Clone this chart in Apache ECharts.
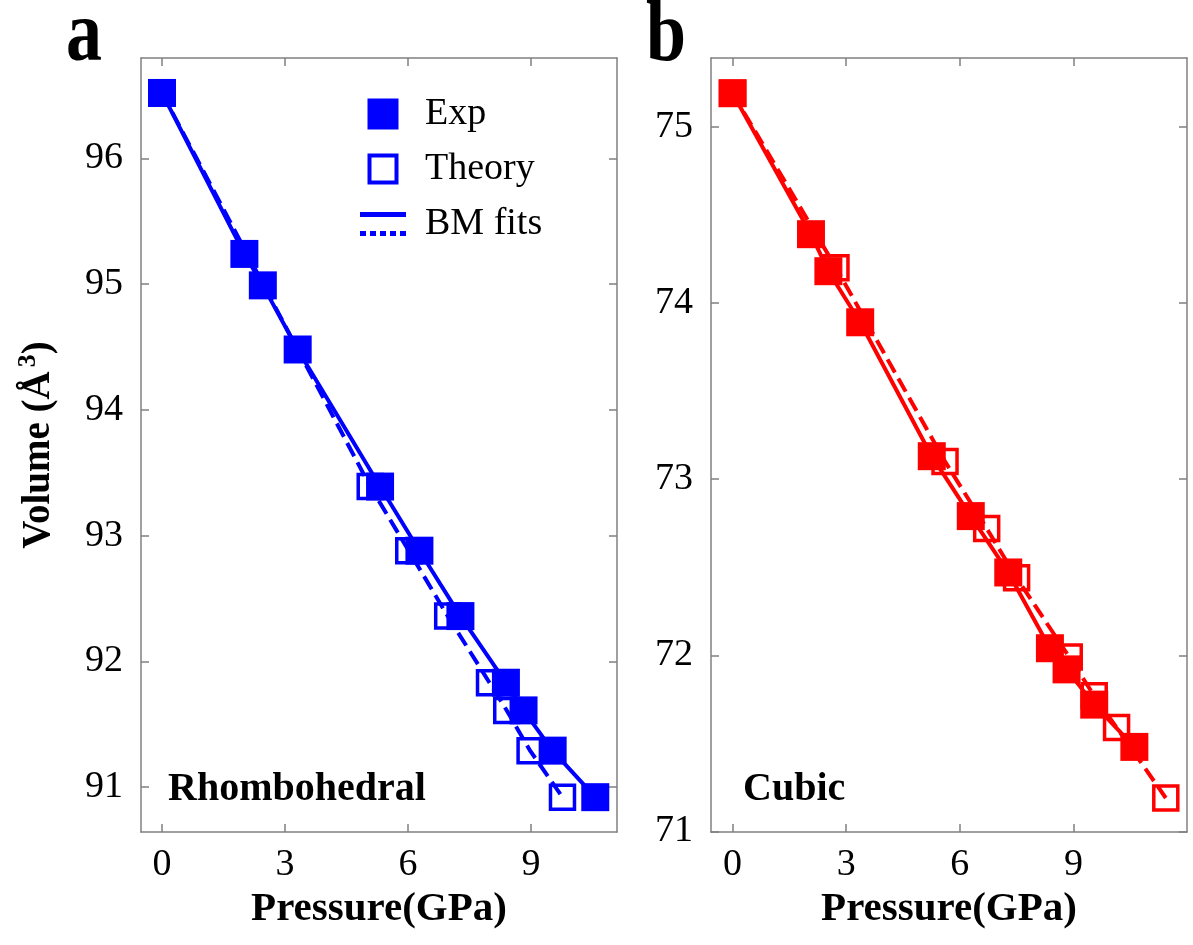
<!DOCTYPE html>
<html>
<head>
<meta charset="utf-8">
<script src="https://cdn.jsdelivr.net/npm/echarts@6/dist/echarts.min.js"></script>
<style>html,body{margin:0;padding:0;background:#fff}#c{width:1193px;height:945px}</style>
</head>
<body>
<div id="c"></div>
<script>
// ---- data (pressure GPa, volume Å^3) ----
const xTicks = [0, 3, 6, 9];
const yTicksA = [91, 92, 93, 94, 95, 96];
const yTicksB = [71, 72, 73, 74, 75];

const expRhombo = [[0, 96.52], [2.01, 95.24], [2.46, 94.99], [3.31, 94.48], [5.32, 93.39], [6.28, 92.88],
  [7.28, 92.36], [8.39, 91.83], [8.82, 91.61], [9.53, 91.29], [10.57, 90.92]];
const theoryRhombo = [[0, 96.52], [5.08, 93.39], [6.02, 92.88], [6.97, 92.36], [7.99, 91.83], [8.41, 91.61],
  [8.98, 91.29], [9.77, 90.92]];

const expCubic = [[0, 75.19], [2.07, 74.39], [2.53, 74.18], [3.37, 73.89], [5.26, 73.13], [6.29, 72.79],
  [7.28, 72.47], [8.38, 72.04], [8.82, 71.92], [9.55, 71.72], [10.61, 71.48]];
const theoryCubic = [[0, 75.19], [2.73, 74.20], [5.61, 73.10], [6.71, 72.72], [7.50, 72.44], [8.89, 71.99],
  [9.55, 71.77], [10.14, 71.59], [11.44, 71.19]];

const BLUE = '#0000ff', RED = '#ff0000';
const SERIF = '"Liberation Serif", "Times New Roman", serif';
const AX = '#808080';

const chart = echarts.init(document.getElementById('c'), null, {renderer: 'canvas'});

function mainX(grid, min, max) {
  return {
    gridIndex: grid, type: 'value', min: min, max: max, position: 'bottom',
    name: 'Pressure(GPa)', nameLocation: 'middle', nameGap: 51,
    nameTextStyle: {fontFamily: SERIF, fontSize: 41, fontWeight: 'bold', color: '#000'},
    axisLine: {show: true, onZero: false, lineStyle: {color: AX, width: 1.5}},
    axisTick: {show: true, inside: true, length: 8, customValues: xTicks, lineStyle: {color: AX, width: 1.5}},
    axisLabel: {show: true, customValues: xTicks, margin: 14, fontFamily: SERIF, fontSize: 38, color: '#000'},
    splitLine: {show: false}
  };
}
function topX(grid, min, max) {
  return {
    gridIndex: grid, type: 'value', min: min, max: max, position: 'top',
    axisLine: {show: true, onZero: false, lineStyle: {color: AX, width: 1.5}},
    axisTick: {show: true, inside: true, length: 8, customValues: xTicks, lineStyle: {color: AX, width: 1.5}},
    axisLabel: {show: false}, splitLine: {show: false}
  };
}
function mainY(grid, min, max, ticks, withName) {
  const o = {
    gridIndex: grid, type: 'value', min: min, max: max, position: 'left',
    axisLine: {show: true, onZero: false, lineStyle: {color: AX, width: 1.5}},
    axisTick: {show: true, inside: true, length: 8, customValues: ticks, lineStyle: {color: AX, width: 1.5}},
    axisLabel: {show: true, customValues: ticks, margin: 18, fontFamily: SERIF, fontSize: 38, color: '#000'},
    splitLine: {show: false}
  };
  if (withName) {
    o.name = 'Volume (Å{sup|3})';
    o.nameLocation = 'middle';
    o.nameGap = 78;
    o.nameTextStyle = {fontFamily: SERIF, fontSize: 39, fontWeight: 'bold', color: '#000',
      rich: {sup: {fontFamily: SERIF, fontSize: 26, fontWeight: 'bold', color: '#000', verticalAlign: 'bottom', padding: [0, 0, 22, 4]}}};
  }
  return o;
}
function rightY(grid, min, max, ticks) {
  return {
    gridIndex: grid, type: 'value', min: min, max: max, position: 'right',
    axisLine: {show: true, onZero: false, lineStyle: {color: AX, width: 1.5}},
    axisTick: {show: true, inside: true, length: 8, customValues: ticks, lineStyle: {color: AX, width: 1.5}},
    axisLabel: {show: false}, splitLine: {show: false}
  };
}

function panelSeries(idx, exp, theory, color, suffix) {
  return [
    {name: 'BM fits' + suffix, type: 'line', xAxisIndex: idx, yAxisIndex: idx, data: theory, showSymbol: false, symbol: 'none',
      lineStyle: {color: color, width: 4, type: [15, 7]}, z: 2, silent: true},
    {name: 'BM fits' + suffix, type: 'line', xAxisIndex: idx, yAxisIndex: idx, data: exp, showSymbol: false, symbol: 'none',
      lineStyle: {color: color, width: 4, type: 'solid'}, itemStyle: {color: color}, z: 2, silent: true},
    {name: 'Theory' + suffix, type: 'scatter', xAxisIndex: idx, yAxisIndex: idx, data: theory, symbol: 'rect', symbolSize: 24,
      itemStyle: {color: 'rgba(0,0,0,0)', borderColor: color, borderWidth: 3.5, opacity: 1}, z: 3},
    {name: 'Exp' + suffix, type: 'scatter', xAxisIndex: idx, yAxisIndex: idx, data: exp, symbol: 'rect', symbolSize: 28,
      itemStyle: {color: color, opacity: 1}, z: 4}
  ];
}

const option = {
  animation: false,
  backgroundColor: '#fff',
  grid: [
    {left: 141, top: 58, width: 476, height: 774},
    {left: 711, top: 58, width: 476, height: 774}
  ],
  xAxis: [mainX(0, -0.512, 11.10), mainX(1, -0.57, 12.0), topX(0, -0.512, 11.10), topX(1, -0.57, 12.0)],
  yAxis: [mainY(0, 90.643, 96.798, yTicksA, true), mainY(1, 70.997, 75.39, yTicksB, false),
    rightY(0, 90.643, 96.798, yTicksA), rightY(1, 70.997, 75.39, yTicksB)],
  legend: {
    orient: 'vertical', left: 355, top: 90, itemWidth: 46, itemHeight: 31, itemGap: 17,
    symbolKeepAspect: true, selectedMode: false,
    textStyle: {fontFamily: SERIF, fontSize: 38, color: '#000', padding: [0, 0, 0, 14]},
    data: [
      {name: 'Exp', icon: 'path://M0,0H31V31H0Z', itemStyle: {color: BLUE, borderWidth: 0}},
      {name: 'Theory', icon: 'path://M0,0H31V31H0Z M4,4V27H27V4Z', itemStyle: {color: BLUE, borderWidth: 0}},
      {name: 'BM fits', icon: 'path://M0,0H46V5H0Z M0,19H6V24H0Z M10,19H16V24H10Z M20,19H26V24H20Z M30,19H36V24H30Z M40,19H46V24H40Z',
        itemStyle: {color: BLUE, borderWidth: 0}}
    ]
  },
  graphic: [
    {type: 'text', left: 66, top: -6, scaleY: 1.2, style: {text: 'a', font: 'bold 72px ' + SERIF, fill: '#000'}},
    {type: 'text', left: 646, top: -6, scaleY: 1.2, style: {text: 'b', font: 'bold 72px ' + SERIF, fill: '#000'}},
    {type: 'text', left: 168, top: 770, style: {text: 'Rhombohedral', font: 'bold 40px ' + SERIF, fill: '#000'}},
    {type: 'text', left: 743, top: 770, style: {text: 'Cubic', font: 'bold 40px ' + SERIF, fill: '#000'}}
  ],
  series: [].concat(
    panelSeries(0, expRhombo, theoryRhombo, BLUE, ''),
    panelSeries(1, expCubic, theoryCubic, RED, ' (cubic)')
  )
};
chart.setOption(option);
</script>
</body>
</html>
